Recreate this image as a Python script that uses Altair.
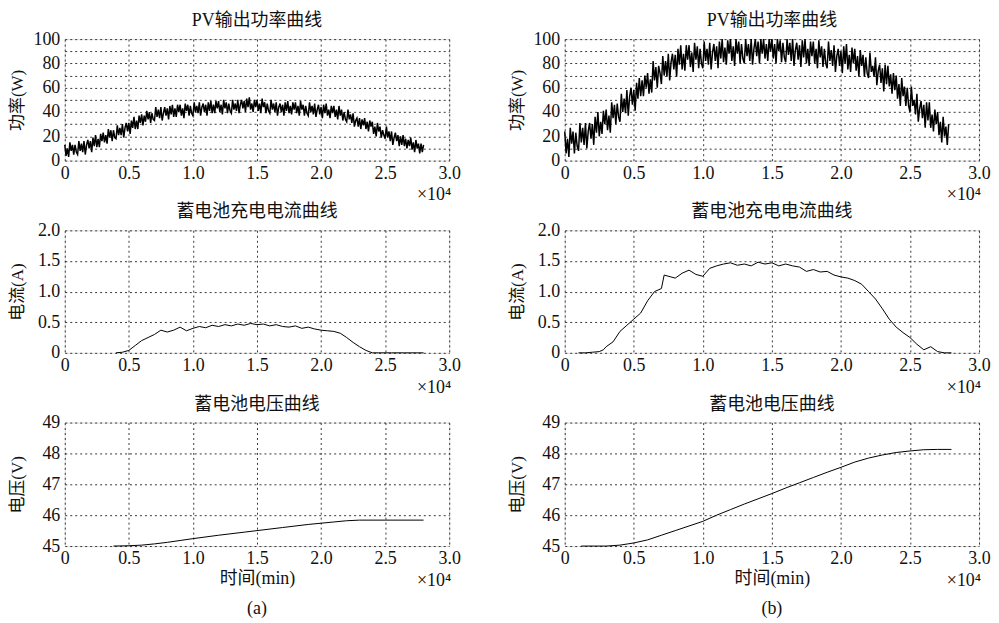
import altair as alt
import pandas as pd

# ---------------- data (x in units of 10^4) ----------------
# PV output power, case (a): samples every 0.01 from 0 to 2.80
pv_a = [13, 4, 10, 3, 15, 8, 13, 5, 13, 7,
        5, 16, 8, 14, 7, 16, 5, 13, 17, 10,
        16, 7, 19, 12, 21, 11, 18, 11, 22, 16,
        23, 15, 21, 14, 26, 19, 25, 16, 25, 19,
        18, 29, 21, 27, 21, 30, 19, 27, 31, 24,
        31, 22, 33, 27, 36, 26, 33, 26, 37, 31,
        38, 29, 37, 32, 41, 34, 40, 31, 39, 34,
        33, 44, 36, 42, 35, 44, 33, 39, 44, 37,
        43, 34, 45, 38, 46, 36, 43, 36, 46, 40,
        46, 37, 43, 35, 47, 41, 46, 37, 45, 39,
        37, 48, 40, 45, 39, 48, 37, 44, 47, 40,
        46, 37, 48, 41, 49, 39, 46, 39, 49, 43,
        49, 40, 46, 38, 50, 43, 48, 39, 47, 41,
        39, 50, 42, 47, 41, 50, 39, 46, 50, 43,
        49, 40, 51, 44, 52, 42, 47, 40, 50, 44,
        50, 41, 47, 39, 51, 44, 48, 39, 47, 41,
        39, 50, 42, 47, 40, 48, 37, 44, 47, 40,
        46, 37, 48, 41, 49, 39, 45, 38, 48, 42,
        48, 39, 45, 37, 49, 42, 46, 37, 45, 39,
        37, 48, 40, 45, 38, 47, 36, 42, 46, 38,
        44, 35, 46, 39, 47, 37, 42, 35, 45, 39,
        45, 36, 42, 34, 45, 37, 42, 33, 40, 34,
        32, 42, 34, 38, 31, 39, 28, 33, 35, 28,
        35, 26, 34, 29, 35, 26, 32, 24, 33, 28,
        32, 22, 28, 20, 31, 24, 28, 19, 25, 21,
        18, 28, 19, 24, 16, 24, 13, 19, 23, 16,
        21, 12, 20, 13, 21, 12, 18, 10, 17, 12,
        19, 9, 15, 7, 17, 10, 14, 6, 14, 7,
        13]
pv_a_x = [round(0.01 * i, 2) for i in range(len(pv_a))]

# PV output power, case (b): samples every 0.01 from 0 to 2.78
pv_b = [24, 6, 18, 3, 27, 14, 24, 6, 23, 12,
        8, 31, 15, 27, 13, 31, 10, 24, 31, 18,
        30, 13, 36, 23, 40, 20, 32, 22, 41, 30,
        42, 25, 37, 23, 48, 35, 46, 30, 47, 36,
        32, 55, 40, 51, 39, 58, 37, 53, 60, 46,
        58, 41, 64, 51, 68, 53, 66, 53, 70, 60,
        72, 55, 67, 56, 82, 66, 77, 60, 78, 72,
        63, 86, 70, 82, 69, 88, 66, 81, 88, 75,
        87, 69, 92, 79, 95, 75, 88, 74, 95, 83,
        95, 77, 89, 73, 97, 83, 94, 76, 92, 80,
        76, 98, 82, 92, 79, 97, 75, 89, 96, 82,
        94, 76, 98, 84, 100, 81, 93, 79, 99, 88,
        100, 82, 94, 78, 100, 88, 98, 80, 96, 84,
        80, 100, 86, 96, 82, 100, 79, 92, 100, 86,
        98, 80, 100, 88, 100, 84, 96, 82, 100, 90,
        100, 84, 96, 80, 100, 90, 99, 81, 97, 85,
        81, 100, 87, 97, 82, 100, 78, 91, 97, 83,
        95, 77, 99, 85, 100, 80, 92, 78, 98, 86,
        98, 80, 92, 76, 99, 85, 94, 77, 92, 80,
        76, 98, 82, 91, 78, 95, 73, 86, 92, 78,
        90, 72, 94, 80, 96, 75, 87, 73, 93, 80,
        92, 74, 86, 69, 91, 78, 87, 69, 85, 72,
        68, 89, 73, 78, 69, 85, 62, 74, 79, 64,
        76, 57, 79, 63, 78, 61, 71, 55, 72, 58,
        70, 51, 63, 45, 68, 53, 61, 45, 60, 45,
        40, 61, 45, 50, 38, 55, 32, 43, 49, 35,
        46, 27, 48, 33, 48, 27, 38, 24, 42, 30,
        40, 21, 32, 15, 36, 20, 28, 13, 30]
pv_b_x = [round(0.01 * i, 2) for i in range(len(pv_b))]

# Battery charging current (A)
cur_a = [0.0, 0.01, 0.04, 0.12, 0.20, 0.25, 0.30, 0.37, 0.34, 0.37,
         0.42, 0.36, 0.40, 0.43, 0.41, 0.45, 0.43, 0.46, 0.44, 0.47,
         0.45, 0.48, 0.46, 0.47, 0.44, 0.46, 0.43, 0.42, 0.44, 0.40,
         0.42, 0.39, 0.37, 0.36, 0.35, 0.32, 0.25, 0.17, 0.10, 0.04,
         0.0, 0.0, 0.0, 0.0, 0.0, 0.0, 0.0, 0.0, 0.0]
cur_a_x = [round(0.40 + 0.05 * i, 2) for i in range(len(cur_a))]

cur_b = [0.0, 0.0, 0.01, 0.02, 0.05, 0.10, 0.18, 0.35, 0.45, 0.55,
         0.65, 0.85, 1.00, 1.05, 1.27, 1.22, 1.30, 1.35, 1.28, 1.25,
         1.38, 1.42, 1.45, 1.47, 1.43, 1.45, 1.42, 1.48, 1.45, 1.47,
         1.42, 1.45, 1.42, 1.40, 1.33, 1.36, 1.32, 1.33, 1.27, 1.24,
         1.22, 1.18, 1.12, 1.00, 0.88, 0.72, 0.55, 0.42, 0.33, 0.25,
         0.14, 0.05, 0.10, 0.02, 0.0, 0.0]
cur_b_x = [0.10, 0.15, 0.20, 0.25, 0.28, 0.30, 0.35, 0.40, 0.45, 0.50,
           0.55, 0.60, 0.65, 0.70, 0.72, 0.80, 0.85, 0.90, 0.95, 1.00,
           1.05, 1.10, 1.15, 1.20, 1.25, 1.30, 1.35, 1.40, 1.45, 1.50,
           1.55, 1.60, 1.65, 1.70, 1.75, 1.80, 1.85, 1.90, 1.95, 2.00,
           2.05, 2.10, 2.15, 2.20, 2.25, 2.30, 2.35, 2.40, 2.45, 2.50,
           2.55, 2.60, 2.65, 2.70, 2.75, 2.80]

# Battery voltage (V)
volt_a_x = [0.38, 0.5, 0.6, 0.7, 0.8, 0.9, 1.0, 1.2, 1.4, 1.5, 1.7, 1.9, 2.0, 2.1, 2.2, 2.3, 2.5, 2.8]
volt_a = [45.0, 45.01, 45.03, 45.07, 45.12, 45.18, 45.24, 45.35, 45.45, 45.5, 45.6, 45.7, 45.74, 45.78, 45.82, 45.84, 45.84, 45.84]

volt_b_x = [0.12, 0.3, 0.4, 0.5, 0.6, 0.7, 0.8, 0.9, 1.0, 1.1, 1.2, 1.3, 1.4, 1.5, 1.6,
            1.7, 1.8, 1.9, 2.0, 2.1, 2.2, 2.3, 2.4, 2.5, 2.6, 2.7, 2.8]
volt_b = [45.0, 45.0, 45.03, 45.1, 45.2, 45.35, 45.5, 45.65, 45.8, 46.0, 46.18, 46.36, 46.53, 46.7, 46.88,
          47.05, 47.22, 47.39, 47.55, 47.72, 47.85, 47.95, 48.03, 48.08, 48.12, 48.13, 48.13]

x_ticks = [0, 0.5, 1.0, 1.5, 2.0, 2.5, 3.0]
FONT = "'Liberation Serif', 'DejaVu Serif', 'Noto Sans CJK SC', serif"
GRID = "#222222"
FS = 18


def panel(xs, ys, width, height, title, ytitle, ydomain, yvalues, ylabel_expr,
          xtitle="", caption=None, sw=1.0):
    df = pd.DataFrame({"x": xs, "y": ys})
    xaxis = alt.Axis(
        values=x_ticks,
        labelExpr="datum.value == 0 ? '0' : format(datum.value, '.1f')",
        grid=True, gridDash=[2, 3], gridColor=GRID, gridOpacity=0.9,
        ticks=False, domain=False,
        labelFont=FONT, labelFontSize=FS, labelColor="#111", labelPadding=4,
        labelFlush=False,
        title=xtitle,
        titleFont=FONT, titleFontSize=FS, titleFontWeight="normal",
        titleColor="#111", titlePadding=2,
    )
    yaxis = alt.Axis(
        values=yvalues, labelExpr=ylabel_expr,
        grid=True, gridDash=[2, 3], gridColor=GRID, gridOpacity=0.9,
        ticks=False, domain=False,
        labelFont=FONT, labelFontSize=FS, labelColor="#111", labelPadding=5,
        labelFlush=False, minExtent=33, maxExtent=33,
        title=ytitle, titleFont=FONT, titleFontSize=17, titleFontWeight="normal",
        titleColor="#111", titlePadding=5,
    )
    base = alt.Chart(df)
    line = base.mark_line(color="black", strokeWidth=sw).encode(
        x=alt.X("x:Q", scale=alt.Scale(domain=[0, 3], nice=False, zero=False), axis=xaxis),
        y=alt.Y("y:Q", scale=alt.Scale(domain=ydomain, nice=False, zero=False), axis=yaxis),
    )
    exp_txt = alt.Chart(pd.DataFrame({"t": ["×10⁴"]})).mark_text(
        align="right", baseline="middle", font=FONT, fontSize=FS, color="#111", dx=2
    ).encode(x=alt.datum(3.0), y=alt.value(height + 35), text="t:N")
    layers = [line, exp_txt]
    if caption:
        cap = alt.Chart(pd.DataFrame({"t": [caption]})).mark_text(
            align="center", baseline="middle", font=FONT, fontSize=FS, color="#111"
        ).encode(x=alt.datum(1.5), y=alt.value(height + 63), text="t:N")
        layers.append(cap)
    return alt.layer(*layers).properties(
        width=width, height=height,
        title=alt.TitleParams(title, font=FONT, fontSize=18, fontWeight="normal",
                              color="#111", offset=0),
    )


pv_vals = list(range(0, 101, 10))
pv_expr = "datum.value % 20 == 0 ? format(datum.value, 'd') : ''"
cur_vals = [0, 0.5, 1.0, 1.5, 2.0]
cur_expr = "datum.value == 0 ? '0' : format(datum.value, '.1f')"
volt_vals = [45, 46, 47, 48, 49]
volt_expr = "format(datum.value, 'd')"

WA, WB = 386, 416
a1 = panel(pv_a_x, pv_a, WA, 122, "PV输出功率曲线", "功率(W)", [0, 100], pv_vals, pv_expr, sw=1.5)
b1 = panel(pv_b_x, pv_b, WB, 122, "PV输出功率曲线", "功率(W)", [0, 100], pv_vals, pv_expr, sw=1.5)
a2 = panel(cur_a_x, cur_a, WA, 123, "蓄电池充电电流曲线", "电流(A)", [0, 2], cur_vals, cur_expr)
b2 = panel(cur_b_x, cur_b, WB, 123, "蓄电池充电电流曲线", "电流(A)", [0, 2], cur_vals, cur_expr)
a3 = panel(volt_a_x, volt_a, WA, 124, "蓄电池电压曲线", "电压(V)", [45, 49], volt_vals, volt_expr,
           xtitle="时间(min)", caption="(a)")
b3 = panel(volt_b_x, volt_b, WB, 124, "蓄电池电压曲线", "电压(V)", [45, 49], volt_vals, volt_expr,
           xtitle="时间(min)", caption="(b)")

chart = alt.concat(
    a1, b1, a2, b2, a3, b3, columns=2,
).properties(
    bounds="flush", align="each", spacing={"row": 70, "column": 116},
    padding={"left": 0, "top": 2, "right": 0, "bottom": 0},
).configure_view(stroke="#444444", strokeWidth=1).configure(background="white")

chart.save("out.html", embed_options={"renderer": "svg", "actions": False})
